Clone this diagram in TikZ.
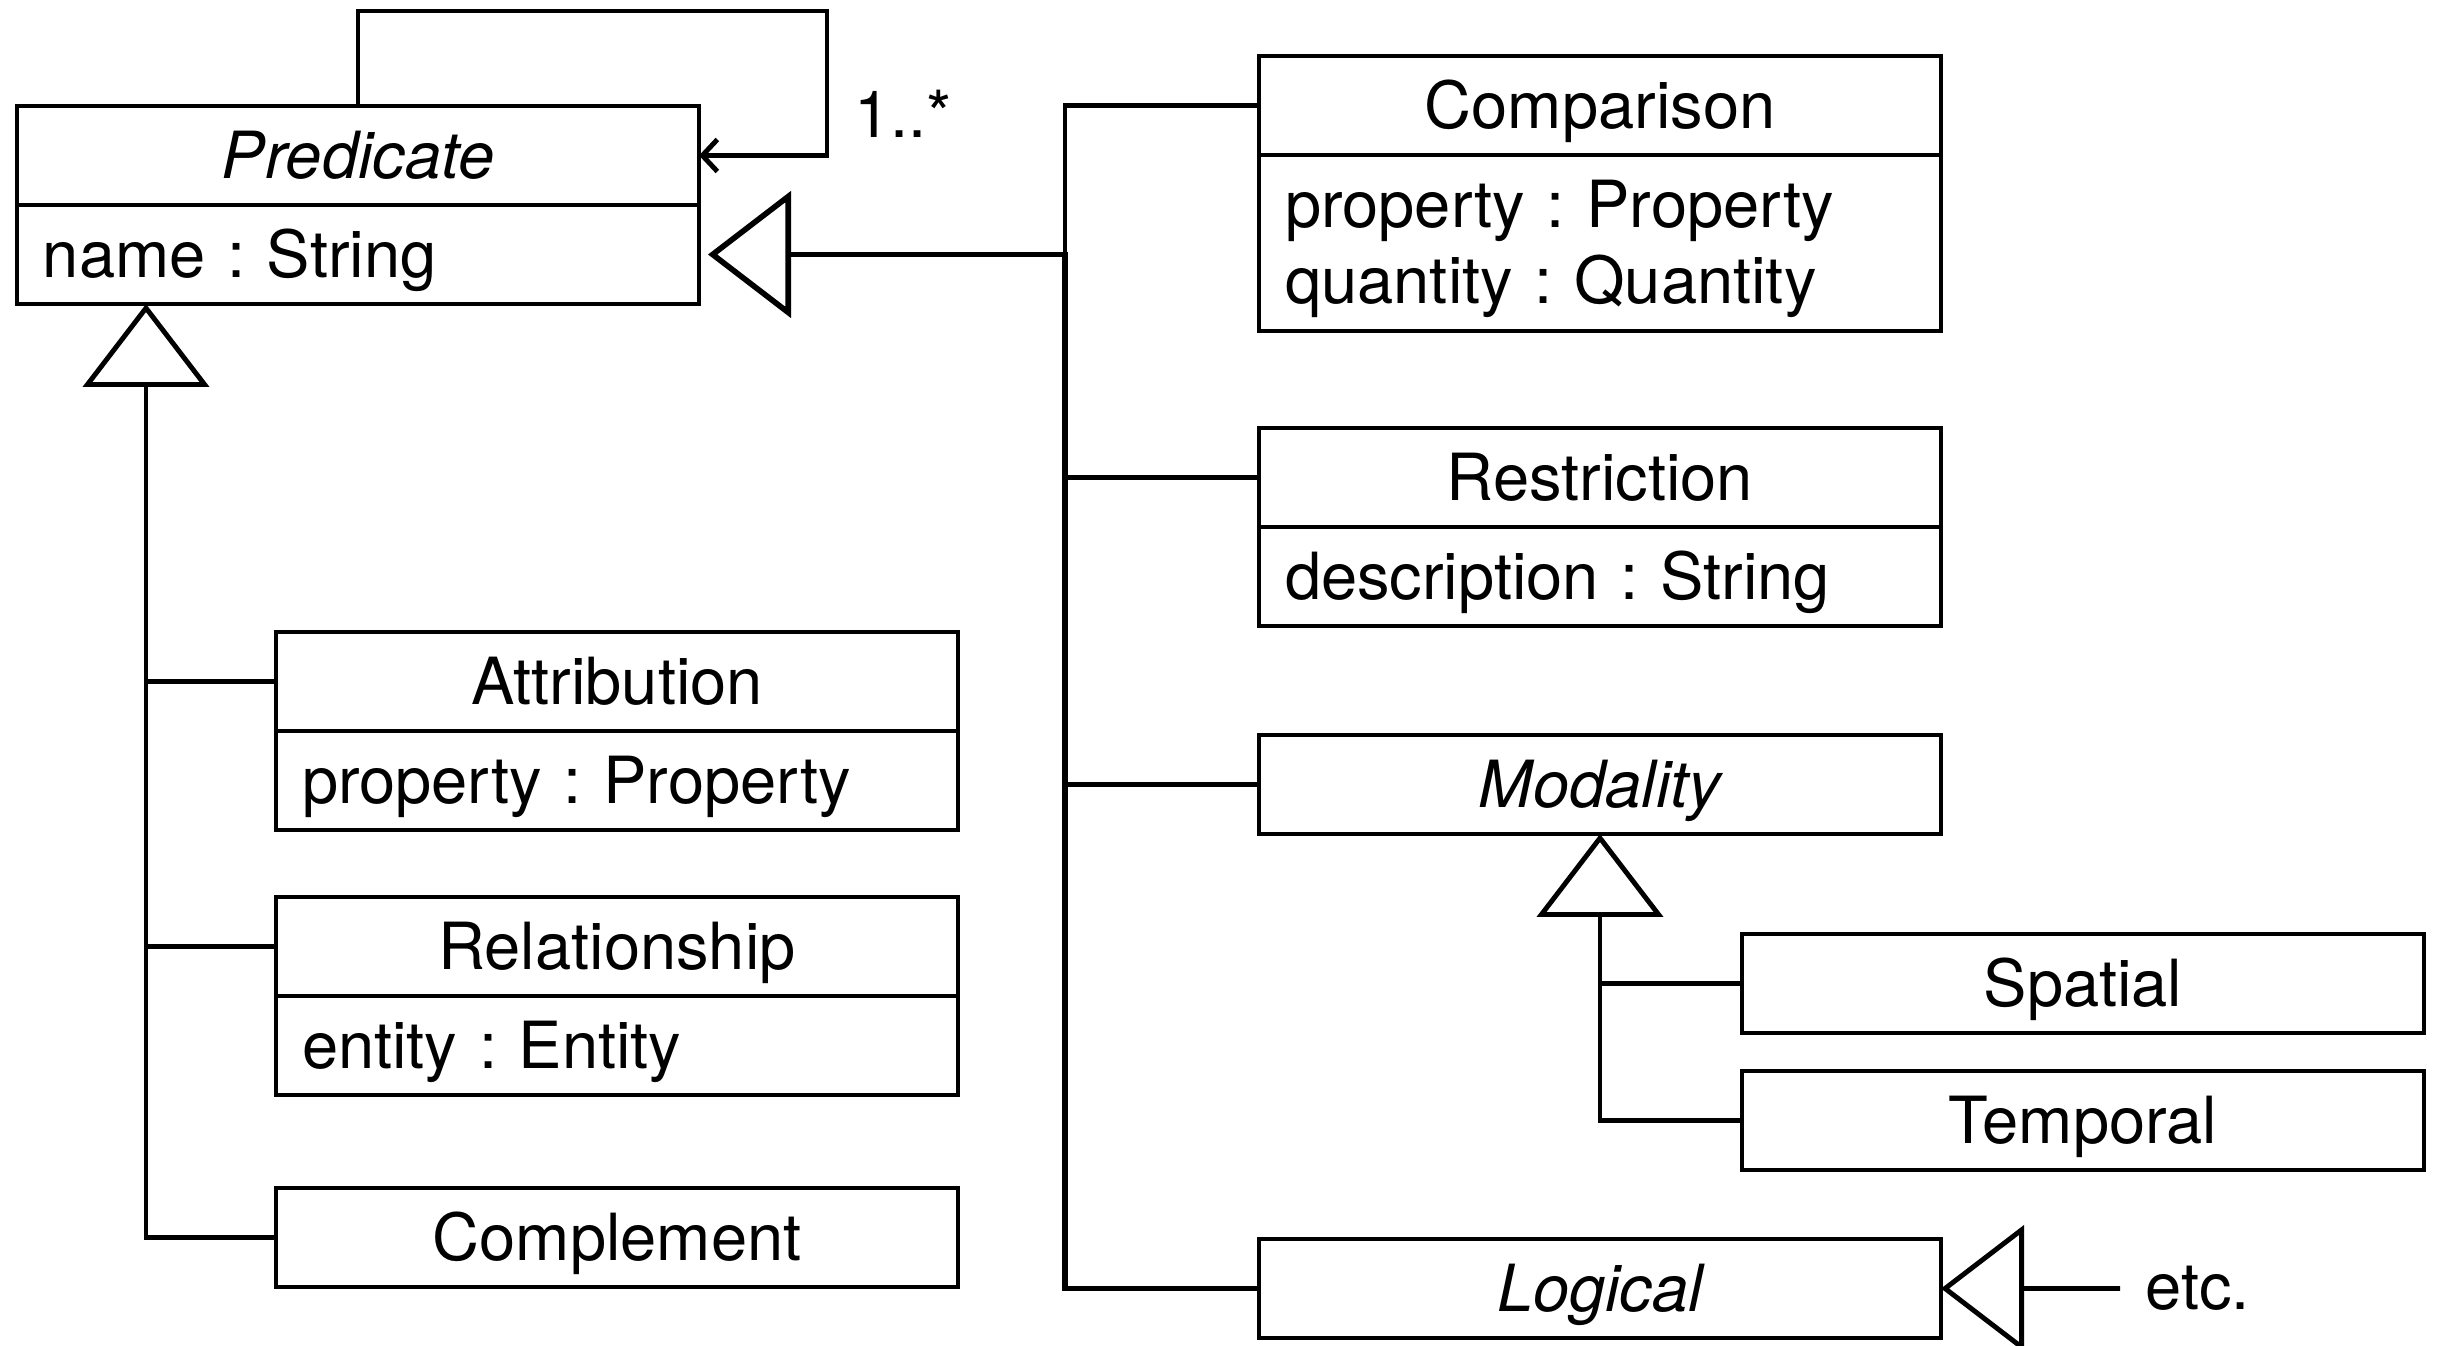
\documentclass[tikz,border=0pt]{standalone}
\usepackage{fontspec}
\setmainfont{TeX Gyre Heros}
\frenchspacing
\usetikzlibrary{positioning,arrows.meta}
\tikzset{
  lbl/.style={font=\fontsize{18.5}{21.6}\selectfont},
  cls/.style={lbl, draw, line width=1.3pt, minimum width=6.82cm, minimum height=0.99cm, inner sep=0pt, outer sep=0pt, text height=13pt, text depth=0pt},
  attrs/.style={cls, text width=6.3cm, align=left, inner xsep=0.26cm, below=0pt of #1},
  link/.style={line width=1.4pt},
  gen/.style={link, -{Triangle[open,length=0.83cm,width=1.26cm]}},
}
\begin{document}
\begin{tikzpicture}
    \useasboundingbox (0,0) rectangle (24.41,-13.46);
    \node[cls, anchor=north west] (predT) at (0.17,-1.06) {\itshape Predicate};
    \node[attrs=predT] (predA) {name : String};
    \node[cls, anchor=north west] (attrT) at (2.76,-6.32) {Attribution};
    \node[attrs=attrT] (attrA) {property : Property};
    \node[cls, anchor=north west] (relT) at (2.76,-8.97) {Relationship};
    \node[attrs=relT] (relA) {entity : Entity};
    \node[cls, anchor=north west] (complT) at (2.76,-11.88) {Complement};
    \node[cls, anchor=north west] (compT) at (12.59,-0.56) {Comparison};
    \node[attrs=compT, minimum height=1.76cm, text depth=21.6pt] (compA) {property : Property\\quantity : Quantity};
    \node[cls, anchor=north west] (restT) at (12.59,-4.28) {Restriction};
    \node[attrs=restT] (restA) {description : String};
    \node[cls, anchor=north west] (modT) at (12.59,-7.35) {\itshape Modality};
    \node[cls, anchor=north west] (spatT) at (17.42,-9.34) {Spatial};
    \node[cls, anchor=north west] (tempT) at (17.42,-10.71) {Temporal};
    \node[cls, anchor=north west] (logT) at (12.59,-12.39) {\itshape Logical};
    \node[lbl, anchor=west, inner xsep=0.25cm, inner ysep=0pt] (etc) at (21.2,-12.885) {etc.};
    \node[lbl] (mult) at (9.03,-1.14) {1..*};
    \draw[link, -{Straight Barb[length=0.15cm,width=0.32cm]}] (predT.north) -- ++(0,0.95) -| ([xshift=1.28cm]predT.east) -- (predT.east);
    \draw[gen] (complT.west) -| ([xshift=-1.3cm]complT.west |- predA.south);
    \draw[link] (attrT.west) -- ++(-1.3,0);
    \draw[link] (relT.west) -- ++(-1.3,0);
    \draw[gen, line width=1.6pt] (logT.west) -- ++(-1.94,0) |- ([xshift=0.09cm]predA.east);
    \draw[link] (compT.west) -| ([xshift=-1.94cm]compT.west |- predA.east);
    \draw[link] (restT.west) -- ++(-1.94,0);
    \draw[link] (modT.west) -- ++(-1.94,0);
    \draw[gen] (tempT.west) -| (modT.south);
    \draw[link] (spatT.west) -- (spatT.west -| modT.south);
    \draw[gen] (etc) -- (logT);
\end{tikzpicture}
\end{document}
